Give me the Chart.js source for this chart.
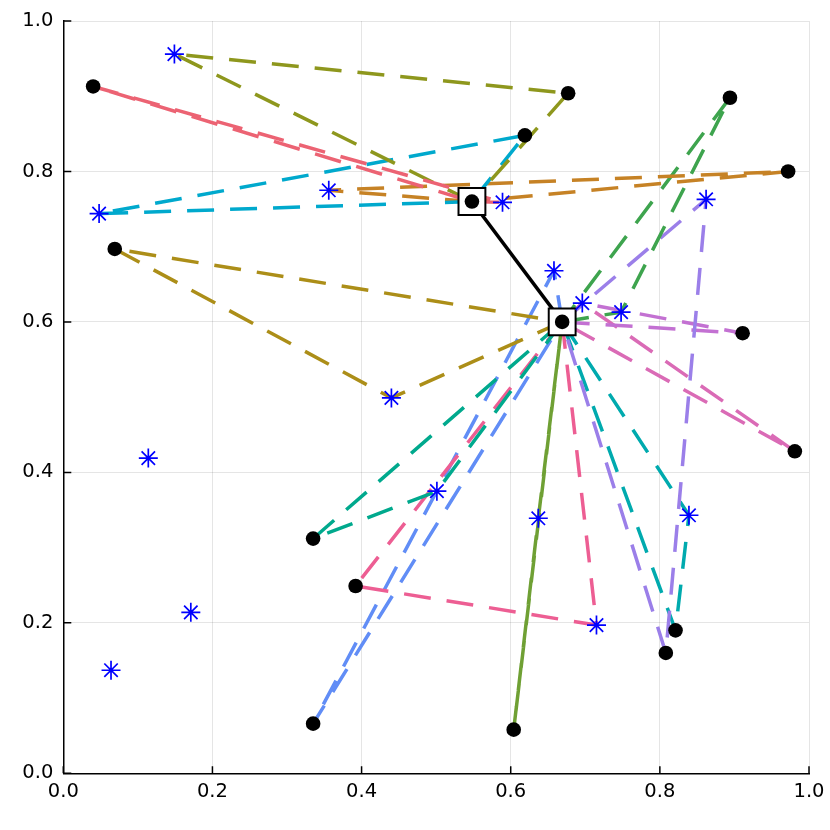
<!DOCTYPE html>
<html>
<head>
<meta charset="utf-8">
<script src="https://cdn.jsdelivr.net/npm/chart.js@4/dist/chart.umd.min.js"></script>
<style>
  html, body { margin: 0; padding: 0; background: #ffffff; }
  canvas { display: block; }
</style>
</head>
<body>
<canvas id="c" width="830" height="830"></canvas>
<script>
// ---- data ----
const hubX = [0.548, 0.669];
const hubY = [0.760, 0.600];

const custX = [0.040, 0.677, 0.619, 0.894, 0.972, 0.069, 0.911, 0.981, 0.335, 0.392, 0.335, 0.604, 0.808, 0.821];
const custY = [0.913, 0.904, 0.848, 0.898, 0.800, 0.697, 0.585, 0.428, 0.312, 0.249, 0.066, 0.058, 0.160, 0.190];

const starX = [0.149, 0.048, 0.356, 0.589, 0.440, 0.658, 0.696, 0.748, 0.862, 0.114, 0.171, 0.064, 0.501, 0.637, 0.839, 0.715];
const starY = [0.956, 0.744, 0.775, 0.759, 0.499, 0.668, 0.625, 0.613, 0.763, 0.419, 0.214, 0.137, 0.375, 0.339, 0.343, 0.197];

// route triangles: hub index, star index, customer index
const routeHub  = [0, 0, 0, 0, 1, 1, 1, 1, 1, 1, 1, 1, 1, 1];
const routeStar = [3, 0, 1, 2, 4, 7, 8, 14, 6, 6, 12, 15, 5, 13];
const routeCust = [0, 1, 2, 4, 5, 3, 12, 13, 6, 7, 8, 9, 10, 11];

const tickValues = [0.0, 0.2, 0.4, 0.6, 0.8, 1.0];

// ---- styles ----
const routeColors = ['#EC6373', '#8E971D', '#00A9CD', '#C68225', '#AC8E18', '#3EA44E', '#9B7FE9',
                     '#00AAAE', '#C371D2', '#DA6BB6', '#00A98D', '#ED5E93', '#618DF6', '#6FA034'];

const pt = (xs, ys, i) => ({ x: xs[i], y: ys[i] });

const datasets = [];

// customer dots + hub dots (top)
datasets.push({
  data: custX.map((_, i) => pt(custX, custY, i)).concat(hubX.map((_, i) => pt(hubX, hubY, i))),
  pointStyle: 'circle', pointRadius: 7.3, pointHoverRadius: 7.3,
  backgroundColor: '#000000', borderWidth: 0, showLine: false, order: 0
});
// stars
datasets.push({
  data: starX.map((_, i) => pt(starX, starY, i)),
  pointStyle: 'star', pointRadius: 9.5, pointHoverRadius: 9.5,
  borderColor: '#0000FF', backgroundColor: '#0000FF', pointBorderWidth: 1.7, borderWidth: 1.7,
  showLine: false, order: 1
});
// hub squares
datasets.push({
  data: hubX.map((_, i) => pt(hubX, hubY, i)),
  pointStyle: 'rect', pointRadius: 19, pointHoverRadius: 19,
  backgroundColor: '#ffffff', borderColor: '#000000', pointBorderWidth: 2, borderWidth: 2,
  showLine: false, order: 2
});
// hub link
datasets.push({
  data: hubX.map((_, i) => pt(hubX, hubY, i)),
  showLine: true, borderColor: '#000000', borderWidth: 3.5, pointRadius: 0, order: 3
});
// route triangles
routeHub.forEach((h, r) => {
  const s = routeStar[r], c = routeCust[r];
  datasets.push({
    data: [pt(hubX, hubY, h), pt(starX, starY, s), pt(custX, custY, c), pt(hubX, hubY, h)],
    showLine: true, borderColor: routeColors[r], borderWidth: 3.5,
    borderDash: [27, 16], borderCapStyle: 'butt', pointRadius: 0, order: 4 + r
  });
});

const tickPlugin = {
  id: 'inwardTicks',
  beforeDatasetsDraw(chart) {
    const ctx = chart.ctx, xs = chart.scales.x, ys = chart.scales.y, a = chart.chartArea;
    ctx.save();
    ctx.strokeStyle = '#000000';
    ctx.lineWidth = 1.5;
    ctx.beginPath();
    tickValues.forEach(v => {
      const px = xs.getPixelForValue(v);
      ctx.moveTo(px, a.bottom); ctx.lineTo(px, a.bottom - 7);
      const py = ys.getPixelForValue(v);
      ctx.moveTo(a.left, py); ctx.lineTo(a.left + 8, py);
    });
    ctx.stroke();
    ctx.restore();
  }
};

const fontSpec = { family: 'DejaVu Sans', size: 19.5 };

new Chart(document.getElementById('c'), {
  type: 'scatter',
  data: { datasets },
  options: {
    responsive: false,
    animation: false,
    events: [],
    layout: { padding: { left: 0, right: 19.3, top: 19, bottom: 0 } },
    plugins: { legend: { display: false }, tooltip: { enabled: false } },
    scales: {
      x: {
        type: 'linear', min: 0, max: 1,
        afterBuildTicks(scale) { scale.ticks = tickValues.map(v => ({ value: v })); },
        afterFit(scale) { scale.height = 56.7; scale.paddingLeft = 0; scale.paddingRight = 0; },
        ticks: { callback: v => v.toFixed(1), color: '#000000', font: fontSpec, padding: 7, maxRotation: 0 },
        grid: { color: 'rgba(0,0,0,0.1)', lineWidth: 1, drawTicks: false },
        border: { display: true, color: '#000000', width: 1.5 }
      },
      y: {
        type: 'linear', min: 0, max: 1,
        afterBuildTicks(scale) { scale.ticks = tickValues.map(v => ({ value: v })); },
        afterFit(scale) { scale.width = 63.3; scale.paddingTop = 0; scale.paddingBottom = 0; },
        ticks: { callback: v => v.toFixed(1), color: '#000000', font: fontSpec, padding: 10 },
        grid: { color: 'rgba(0,0,0,0.1)', lineWidth: 1, drawTicks: false },
        border: { display: true, color: '#000000', width: 1.5 }
      }
    }
  },
  plugins: [tickPlugin]
});
</script>
</body>
</html>
